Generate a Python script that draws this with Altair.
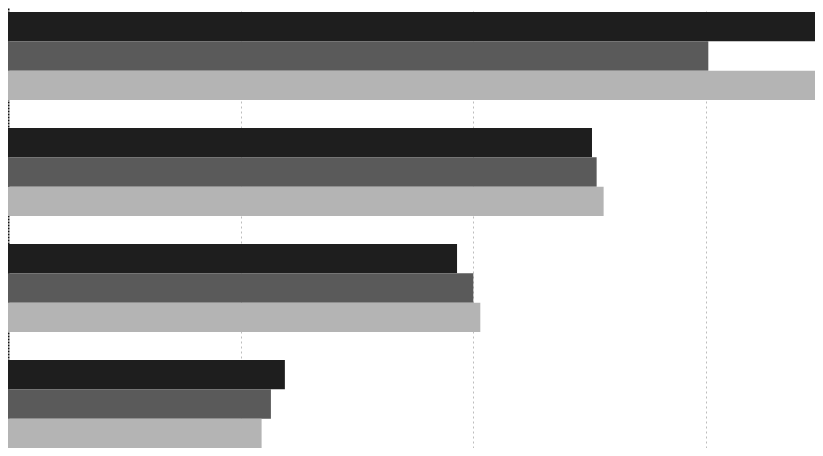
import altair as alt
import pandas as pd

groups = ["A", "B", "C", "D"]
series = ["S1", "S2", "S3"]
s1 = [3.52, 2.51, 1.93, 1.19]
s2 = [3.01, 2.53, 2.00, 1.13]
s3 = [3.55, 2.56, 2.03, 1.09]
colors = ["#1e1e1e", "#5a5a5a", "#b4b4b4"]

rows = []
for i, g in enumerate(groups):
    for s, vals in zip(series, [s1, s2, s3]):
        rows.append({"group": g, "series": s, "value": vals[i]})
df = pd.DataFrame(rows)

chart = alt.Chart(df).mark_bar(clip=True).encode(
    x=alt.X("value:Q",
            scale=alt.Scale(domain=[0, 3.4685], nice=False, zero=True),
            axis=alt.Axis(values=[1, 2, 3], labels=False, ticks=False, domain=False,
                          title=None, grid=True, gridColor="#bdbdbd",
                          gridDash=[2, 3], gridWidth=1)),
    y=alt.Y("group:N", sort=groups,
            scale=alt.Scale(paddingInner=0.2414, paddingOuter=0.01724, align=1),
            axis=alt.Axis(labels=False, ticks=False, title=None, domain=True,
                          domainColor="#111111", domainDash=[2, 1], domainWidth=2)),
    yOffset=alt.YOffset("series:N", sort=series, scale=alt.Scale(paddingInner=0, paddingOuter=0)),
    color=alt.Color("series:N", sort=series,
                    scale=alt.Scale(domain=series, range=colors), legend=None),
).properties(
    width=807, height=440, padding=0
).configure_view(stroke=None)

chart.save("out.html", embed_options={"renderer": "svg", "actions": False})
